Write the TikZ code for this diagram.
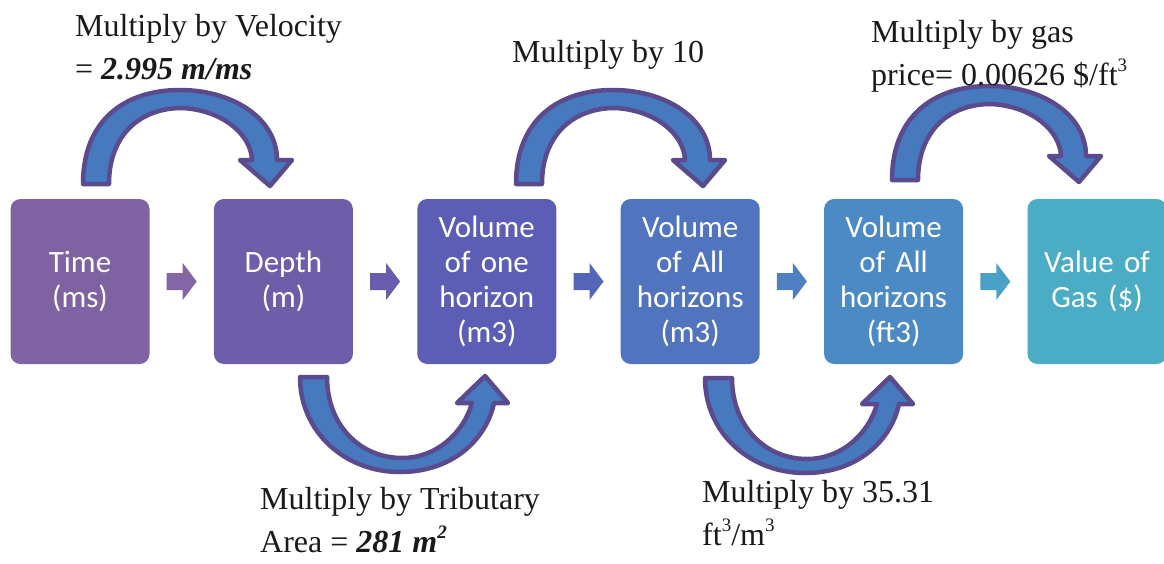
\documentclass[tikz,border=0pt]{standalone}
\usepackage{fontspec}
\setmainfont{Liberation Serif}
\newfontfamily\stagefont{Carlito}
\usetikzlibrary{calc}

% small raised figure for units such as ft^3
\newcommand\unitpower[1]{\raisebox{0.42em}{\fontsize{19}{19}\selectfont #1}}

% stage box colours, purple to aqua
\definecolor{stageA}{HTML}{7F62A2}
\definecolor{stageB}{HTML}{6E5DA9}
\definecolor{stageC}{HTML}{5C5DB5}
\definecolor{stageD}{HTML}{5074BE}
\definecolor{stageE}{HTML}{4B8AC4}
\definecolor{stageF}{HTML}{4BACC6}
% small block arrows between stages
\definecolor{linkA}{HTML}{8466A6}
\definecolor{linkB}{HTML}{6A5BAE}
\definecolor{linkC}{HTML}{5566B9}
\definecolor{linkD}{HTML}{4E7FC2}
\definecolor{linkE}{HTML}{4AA0C7}
% curved conversion arrows
\definecolor{bendfill}{HTML}{4679BE}
\definecolor{bendline}{HTML}{5B4A8D}
\definecolor{labeltext}{HTML}{1A1A1A}

\begin{document}
\begin{tikzpicture}[x=1pt,y=-1pt,
  stage/.style={rounded corners=10pt, minimum width=139pt, minimum height=165pt,
    inner sep=0pt, text width=135pt, align=center, text=white,
    font=\stagefont\fontsize{31}{35}\selectfont},
  curvearrow/.style={fill=bendfill, draw=bendline, line width=4.5pt, line join=round},
  remark/.style={anchor=north west, inner sep=0pt, align=left, text=labeltext,
    font=\fontsize{32}{43}\selectfont}]

\useasboundingbox (0,0) rectangle (1164,563);

% stages
\node[stage, fill=stageA] (time)  at (80,281.5)    {Time\\(ms)};
\node[stage, fill=stageB] (depth) at (283.4,281.5) {Depth\\(m)};
\node[stage, fill=stageC] (vone)  at (486.8,281.5) {Volume\\of one\\horizon\\(m3)};
\node[stage, fill=stageD] (vall)  at (690.2,281.5) {Volume\\of All\\horizons\\(m3)};
\node[stage, fill=stageE] (vft)   at (893.6,281.5) {Volume\\of All\\horizons\\(ft3)};
\node[stage, fill=stageF] (gas)   at (1097,281.5)  {Value of\\Gas (\$)};

% block arrows in the gaps between stages
\foreach \a/\b/\c in {time/depth/linkA, depth/vone/linkB, vone/vall/linkC,
                      vall/vft/linkD, vft/gas/linkE}{
  \coordinate (g) at ($(\a.east)!0.5!(\b.west)$);
  \fill[\c] (g) ++(-15,-8.5) -- ++(16,0) -- ++(0,-10) -- ++(14,18.5)
        -- ++(-14,18.5) -- ++(0,-10) -- ++(-16,0) -- cycle;
}

% curved arrows over the stages
\foreach \dx/\dy in {0/0, 433/0, 809/-4}{
  \filldraw[curvearrow, shift={(\dx,\dy)}]
    (83,184) .. controls (83,120) and (125,90) .. (180,90)
    .. controls (232,90) and (277,118) .. (277,160)
    -- (292,160) -- (270,186) -- (240,160) -- (252,160)
    .. controls (251,134) and (222,110) .. (182,108)
    .. controls (140,108) and (109,135) .. (109,184) -- cycle;
}

% curved arrows under the stages
\foreach \dx/\dy in {0/0, 405/1}{
  \filldraw[curvearrow, shift={(\dx,\dy)}]
    (300,377) .. controls (300,432) and (345,472) .. (400,472)
    .. controls (452,472) and (486,440) .. (494,403)
    -- (508,403) -- (485,376) -- (457,403) -- (472,403)
    .. controls (464,432) and (437,458) .. (402,458)
    .. controls (360,458) and (327,425) .. (327,377) -- cycle;
}

% conversion factors
\node[remark] (velocity) at (75,14)
  {Multiply by Velocity\\= \textbf{\textit{2.995 m/ms}}};
\node[remark] (ten) at (512,40) {Multiply by 10};
\node[remark] (price) at (871,20)
  {Multiply by gas\\price= 0.00626 \$/ft\unitpower{3}};
\node[remark] (area) at (260,487)
  {Multiply by Tributary\\Area = \textbf{\textit{281 m\unitpower{2}}}};
\node[remark] (cubic) at (702,480)
  {Multiply by 35.31\\ft\unitpower{3}/m\unitpower{3}};

\end{tikzpicture}
\end{document}
